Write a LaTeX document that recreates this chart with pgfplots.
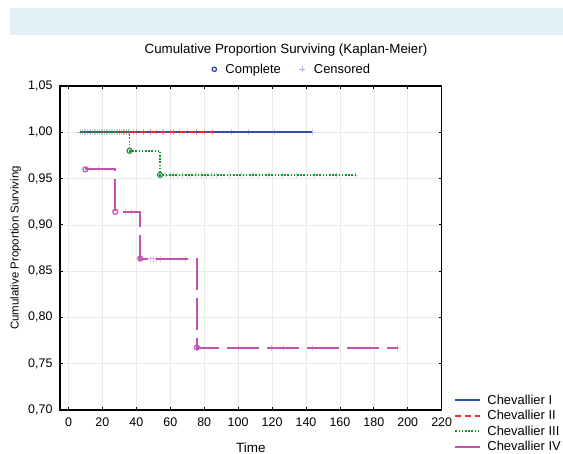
\documentclass[border=0pt]{standalone}
\usepackage{pgfplots}
\pgfplotsset{compat=1.18}
\usepackage{fontspec}
\setmainfont{Liberation Sans}

\definecolor{cblue}{RGB}{48,80,176}
\definecolor{cred}{RGB}{255,40,40}
\definecolor{cgreen}{RGB}{20,145,50}
\definecolor{cmag}{RGB}{196,80,176}
\definecolor{cdark}{RGB}{50,60,160}
\definecolor{clav}{RGB}{175,175,225}
\definecolor{banner}{RGB}{226,240,245}
\definecolor{gridc}{RGB}{234,234,234}

\begin{document}
\begin{tikzpicture}
\useasboundingbox (0,0) rectangle (563bp,454bp);
\fill[banner] (10bp,419bp) rectangle (563bp,446bp);

\begin{axis}[
  at={(60bp,44bp)}, anchor=south west,
  scale only axis, width=381.7bp, height=324bp,
  xmin=-5, xmax=220, ymin=0.70, ymax=1.05,
  xtick={0,20,...,220},
  ytick={0.70,0.75,0.80,0.85,0.90,0.95,1.00,1.05},
  /pgf/number format/assume math mode=true,
  ticklabel style={font=\fontsize{12.5}{14}\selectfont},
  xticklabel style={yshift=-4bp},
  yticklabel style={xshift=-4bp, /pgf/number format/.cd, fixed, fixed zerofill, precision=2, use comma},
  tick align=inside, major tick length=3bp,
  tick style={black, line width=0.8bp},
  axis line style={black, line width=1.5bp},
  grid=major, major grid style={gridc, line width=0.6bp},
  xlabel={Time}, ylabel={Cumulative Proportion Surviving},
  every axis x label/.style={at={(axis description cs:0.5,-0.117)}, anchor=center,
    font=\fontsize{13.5}{15}\selectfont},
  every axis y label/.style={at={(axis description cs:-0.116,0.5)}, rotate=90, anchor=center,
    font=\fontsize{11.5}{13}\selectfont},
  title={Cumulative Proportion Surviving (Kaplan-Meier)},
  title style={at={(axis description cs:0.592,1.091)}, anchor=center, font=\fontsize{13.4}{15}\selectfont},
  legend cell align=left,
  legend image code/.code={\draw[#1] (0bp,0bp) -- (25bp,0bp);},
  legend style={at={(1.025,0.06)}, anchor=north west, draw=none, fill=none,
    font=\fontsize{13}{15}\selectfont, row sep=0.6bp,
    /tikz/every odd column/.append style={column sep=4bp}},
]
% step lines (legend entries)
\addplot[cblue, line width=1.8bp, const plot] coordinates {(7,1.00) (143.6,1.00)};
\addlegendentry{Chevallier I}
\addplot[cred, line width=1.8bp, dash pattern=on 6bp off 4bp, const plot] coordinates {(7,1.00) (85,1.00)};
\addlegendentry{Chevallier II}
\addplot[cgreen, line width=1.8bp, dash pattern=on 1.6bp off 1.6bp, const plot] coordinates {(7,1.00) (36,0.98) (54,0.954) (169,0.954)};
\addlegendentry{Chevallier III}
\addplot[cmag, line width=2bp, dash pattern=on 32bp off 8bp, const plot] coordinates {(10,0.96) (27.6,0.914) (42.3,0.8636) (75.7,0.7675) (194.3,0.7675)};
\addlegendentry{Chevallier IV}

% censored observations
\addplot[forget plot, only marks, mark=+, mark size=3bp, cblue, opacity=0.3] coordinates {
(7,1) (9,1) (11,1) (13,1) (15,1) (17,1) (19,1) (21,1) (23,1) (25,1) (27,1) (29,1) (31,1) (33,1) (35,1)
(38,1) (44,1) (48,1) (55,1) (62,1) (75,1) (96,1) (106,1) (121,1) (143.6,1)};
\addplot[forget plot, only marks, mark=+, mark size=3bp, cred, opacity=0.3] coordinates {
(30,1) (32,1) (34,1) (36,1) (40,1) (44,1) (48,1) (52,1) (56,1) (60,1) (65,1) (70,1) (75,1) (80,1) (85,1)};
\addplot[forget plot, only marks, mark=+, mark size=3bp, cgreen, opacity=0.25] coordinates {
(8,1) (10,1) (12,1) (14,1) (16,1) (18,1) (20,1) (22,1) (24,1) (26,1) (28,1) (30,1) (32,1) (34,1)
(57,0.954) (60,0.954) (62,0.954) (64,0.954) (67,0.954) (70,0.954) (72,0.954) (75,0.954) (78,0.954)
(81,0.954) (84,0.954) (87,0.954) (95,0.954) (102,0.954) (108,0.954) (112,0.954) (118,0.954)
(126,0.954) (134,0.954) (145,0.954) (158,0.954) (169,0.954)};
\addplot[forget plot, only marks, mark=+, mark size=3bp, cmag, opacity=0.35] coordinates {
(17.7,0.96) (27.6,0.917) (33.5,0.914) (37,0.914)
(48,0.8636) (50,0.8636) (52,0.8636) (54,0.8636) (69,0.8636)
(100,0.7675) (119.6,0.7675) (126.8,0.7675) (143.6,0.7675) (194,0.7675)};

% complete observations
\addplot[forget plot, only marks, mark=o, mark size=2.5bp, cgreen, line width=1.2bp, fill=white] coordinates {
(36,0.98) (54,0.954)};
\addplot[forget plot, only marks, mark=o, mark size=2.5bp, cmag, line width=1.2bp, fill=white] coordinates {
(10,0.96) (27.6,0.914) (42.3,0.8636) (75.7,0.7675)};
\end{axis}

% legend for observation types
\begin{axis}[
  at={(60bp,44bp)}, anchor=south west,
  scale only axis, width=381.7bp, height=324bp,
  hide axis, xmin=0, xmax=1, ymin=0, ymax=1,
  legend columns=2,
  legend style={at={(0.608,1.0515)}, anchor=center, draw=none, fill=none,
    font=\fontsize{13}{15}\selectfont,
    /tikz/every odd column/.append style={column sep=7bp},
    /tikz/every even column/.append style={column sep=16bp}},
]
\addlegendimage{only marks, mark=o, mark size=2.2bp, cdark, line width=1.2bp}
\addlegendentry{Complete}
\addlegendimage{only marks, mark=+, mark size=3bp, clav}
\addlegendentry{Censored}
\end{axis}
\end{tikzpicture}
\end{document}
